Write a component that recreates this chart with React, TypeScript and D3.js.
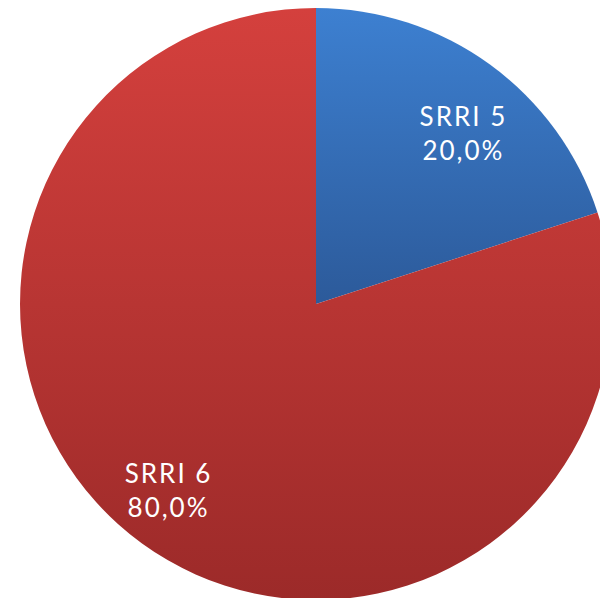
import * as d3 from 'd3'

const LABELS = ['SRRI 5', 'SRRI 6']
const VALUES = [20, 80]
const PCT_LABELS = ['20,0%', '80,0%']

const WIDTH = 600
const HEIGHT = 598
const CX = 316
const CY = 304
const R = 296

// each slice carries its own top-to-bottom shade
const GRADS = [
  { id: 'g-blue', top: '#3d80d1', bottom: '#2c5a9a' },
  { id: 'g-red', top: '#d4403d', bottom: '#9c2a29' },
]

export default function App() {
  const pie = d3.pie<number>().sort(null).value(d => d)
  const arcs = pie(VALUES)
  const arc = d3.arc<d3.PieArcDatum<number>>().innerRadius(0).outerRadius(R)

  // labels sit fairly far out, like the office-style "best fit"
  const labelArc = d3.arc<d3.PieArcDatum<number>>().innerRadius(R * 0.79).outerRadius(R * 0.79)

  return (
    <svg
      width={WIDTH}
      height={HEIGHT}
      style={{ position: 'absolute', left: 0, top: 0, fontFamily: 'Lato, sans-serif' }}
    >
      <defs>
        {GRADS.map(g => (
          <linearGradient key={g.id} id={g.id} x1={0} y1={0} x2={0} y2={1}>
            <stop offset="0" stopColor={g.top} />
            <stop offset="1" stopColor={g.bottom} />
          </linearGradient>
        ))}
      </defs>
      <g transform={`translate(${CX},${CY})`}>
        {arcs.map((a, i) => (
          <path key={LABELS[i]} d={arc(a) || ''} fill={`url(#${GRADS[i].id})`} />
        ))}
        {arcs.map((a, i) => {
          const [cx, cy] = labelArc.centroid(a)
          // nudge outward a little along x, the original labels hug the sides
          const lx = cx + Math.sign(cx) * 10
          const ly = cy + (cy < 0 ? 18 : -3)
          return (
            <text
              key={`lbl-${i}`}
              x={lx}
              y={ly}
              textAnchor="middle"
              fill="#ffffff"
              fontSize={26}
              letterSpacing={2}
            >
              <tspan x={lx} dy={-7}>{LABELS[i]}</tspan>
              <tspan x={lx} dy={34}>{PCT_LABELS[i]}</tspan>
            </text>
          )
        })}
      </g>
    </svg>
  )
}
